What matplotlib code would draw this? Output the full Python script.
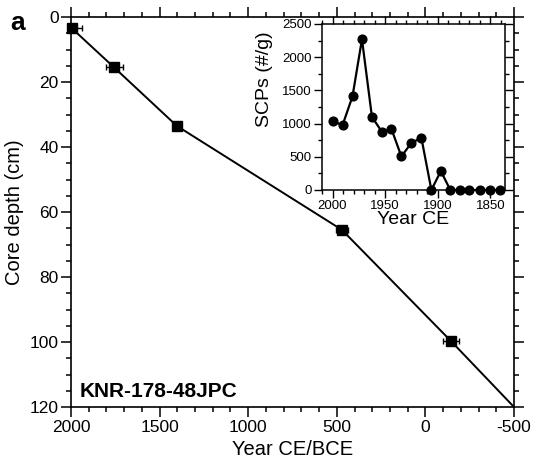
import matplotlib
matplotlib.use("Agg")
import matplotlib.pyplot as plt
from matplotlib.ticker import MultipleLocator

plt.rcParams['font.family'] = ['Liberation Sans', 'DejaVu Sans']
plt.rcParams['axes.unicode_minus'] = False

# Age model tie points (main panel)
tie_years = [1995, 1757, 1403, 471, -144]
tie_depth = [3.5, 15.5, 33.5, 65.5, 99.7]
tie_err_young = [55, 48, 0, 35, 43]   # toward younger (plot right)
tie_err_old = [0, 48, 0, 35, 43]      # toward older (plot left)
# Age-depth model line (ties + extrapolation to base)
model_years = [1995, 1757, 1403, 471, -144, -500]
model_depth = [3.5, 15.5, 33.5, 65.5, 99.7, 120]

# Inset: SCP counts
scp_years = [2000, 1990.5, 1981, 1972, 1962.5, 1953, 1944, 1934.5, 1925,
             1915.5, 1906, 1897, 1888, 1879, 1870, 1860, 1850, 1841]
scp_values = [1040, 975, 1410, 2270, 1100, 875, 920, 505, 710,
              785, 0, 285, 0, 0, 0, 0, 0, 0]

main_xticks = [2000, 1500, 1000, 500, 0, -500]
main_yticks = [0, 20, 40, 60, 80, 100, 120]
inset_xticks = [2000, 1950, 1900, 1850]
inset_yticks = [0, 500, 1000, 1500, 2000, 2500]

fig = plt.figure(figsize=(5.33, 4.71), dpi=100)
ax = fig.add_axes([71/533, 1-407/471, (514-71)/533, (407-17)/471])

ax.plot(model_years, model_depth, color='black', lw=1.4, zorder=2)
ax.errorbar(tie_years, tie_depth, xerr=[tie_err_young, tie_err_old],
            fmt='s', color='black', ms=6.5, capsize=2.2, elinewidth=1.0,
            capthick=1.0, zorder=3, clip_on=False)

ax.set_xlim(2000, -500)
ax.set_ylim(120, 0)
ax.set_xticks(main_xticks)
ax.set_yticks(main_yticks)
ax.xaxis.set_minor_locator(MultipleLocator(100))
ax.yaxis.set_minor_locator(MultipleLocator(5))
ax.tick_params(which='both', direction='out', top=True, right=True,
               labelsize=12.5, width=1.1, color='black')
ax.tick_params(which='major', length=7, pad=2)
ax.tick_params(which='minor', length=3.5)
for s in ax.spines.values():
    s.set_linewidth(1.2)
ax.set_xlabel('Year CE/BCE', fontsize=14.5, labelpad=4)
ax.set_ylabel('Core depth (cm)', fontsize=14.5, labelpad=4)

ax.text(0.02, 0.026, 'KNR-178-48JPC', transform=ax.transAxes,
        fontsize=15, fontweight='bold', ha='left', va='baseline')
fig.text(10/533, 1-30/471, 'a', fontsize=19, fontweight='bold',
         ha='left', va='baseline')

# Inset
axi = fig.add_axes([322/533, 1-190/471, (505-322)/533, (190-24)/471])
axi.plot(scp_years, scp_values, color='black', lw=1.6, marker='o', ms=6.3,
         clip_on=False, zorder=3)
axi.set_xlim(2010, 1836)
axi.set_ylim(0, 2500)
axi.set_xticks(inset_xticks)
axi.set_yticks(inset_yticks)
axi.xaxis.set_minor_locator(MultipleLocator(10))
axi.yaxis.set_minor_locator(MultipleLocator(250))
axi.tick_params(which='both', direction='out', top=True, right=True,
                labelsize=9.5, width=1.0, color='black')
axi.tick_params(which='major', length=6, pad=1.5)
axi.tick_params(which='minor', length=3)
for s in axi.spines.values():
    s.set_linewidth(1.1)
axi.set_xlabel('Year CE', fontsize=14, labelpad=-1)
axi.set_ylabel('SCPs (#/g)', fontsize=14, labelpad=1)
axi.yaxis.set_label_coords(-0.27, 0.67)

fig.savefig('out.png', dpi=100)
